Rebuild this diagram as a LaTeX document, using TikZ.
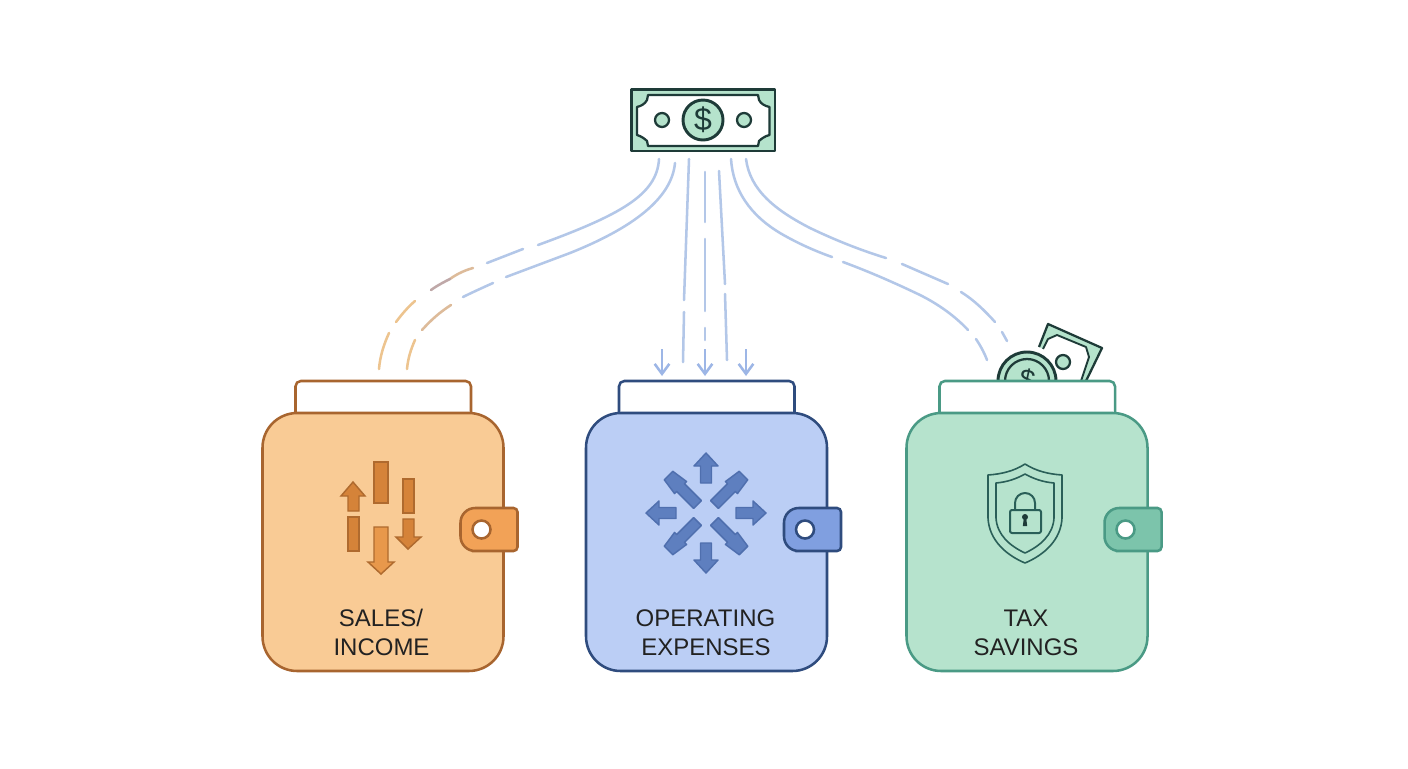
\documentclass[tikz,border=0pt]{standalone}
\usepackage{fontspec}
\setmainfont{Liberation Sans}
\usetikzlibrary{arrows.meta}
\definecolor{orfill}{HTML}{F9CB95}
\definecolor{orline}{HTML}{A8652F}
\definecolor{orclasp}{HTML}{F2A257}
\definecolor{orbar}{HTML}{D58339}
\definecolor{orbarlight}{HTML}{E8984B}
\definecolor{orbarline}{HTML}{AF6A2E}
\definecolor{blfill}{HTML}{BBCEF5}
\definecolor{blline}{HTML}{2F4C7E}
\definecolor{blclasp}{HTML}{809FE0}
\definecolor{blbar}{HTML}{5E7FBF}
\definecolor{blbarline}{HTML}{4F6FAE}
\definecolor{grfill}{HTML}{B6E3CD}
\definecolor{grline}{HTML}{4A9A85}
\definecolor{grclasp}{HTML}{7CC4AB}
\definecolor{icon}{HTML}{2A5F58}
\definecolor{billink}{HTML}{1E3B38}
\definecolor{billgreen}{HTML}{B5E3CC}
\definecolor{flowblue}{HTML}{B3C7E8}
\definecolor{flowarrow}{HTML}{9DB6E6}
\definecolor{floworange}{HTML}{EDC48F}
\definecolor{flowtan}{HTML}{DDBB9A}
\definecolor{flowmauve}{HTML}{BFA8A8}
\definecolor{labelink}{HTML}{222222}
\tikzset{
  x=0.75pt, y=-0.75pt,
  walletbody/.style={line width=1.9pt},
  walletslot/.style={line width=1.9pt, fill=white, rounded corners=4pt},
  flowline/.style={line width=1.9pt, color=flowblue, line cap=round},
  floworangeline/.style={flowline, color=floworange},
  dropline/.style={line width=1.9pt, color=flowarrow, -{Straight Barb[length=7.5pt,width=11pt]}},
  barshape/.style={line width=1.1pt, draw=orbarline, fill=orbar},
  barlight/.style={barshape, fill=orbarlight},
  dirshape/.style={line width=1.1pt, draw=blbarline, fill=blbar, line join=round},
  shieldline/.style={line width=1.2pt, draw=icon, line join=round},
  walletlabel/.style={font=\fontsize{18}{18}\selectfont, text=labelink, inner sep=0pt, anchor=base},
  billline/.style={line width=2.2pt, draw=billink, line join=round}
}
% Wallet: #1 left edge, #2 fill, #3 outline, #4 clasp colour
\newcommand{\walletshape}[4]{%
  \draw[walletslot, draw=#3] (#1+33,413) |- (#1+208.5,381) -- (#1+208.5,413);
  \draw[walletbody, draw=#3, fill=#2, rounded corners=26pt] (#1,413) rectangle (#1+241,671);
  \draw[walletbody, draw=#3, fill=#4, rounded corners=11pt]
    (#1+224,508) -- (#1+198,508) -- (#1+198,551) -- (#1+224,551)
    [rounded corners=3pt] -- (#1+255,551) -- (#1+255,508) -- cycle;
  \fill[white, draw=#3, line width=1.9pt] (#1+219,529.5) circle (9);
}
% Radial arrow on the expenses wallet: axis arrows
\newcommand{\axisarrow}[1]{%
  \draw[dirshape, shift={(706,513)}, rotate=#1]
    (30,-5.5) -- (47,-5.5) -- (47,-12) -- (60,0) -- (47,12) -- (47,5.5) -- (30,5.5) -- cycle;
}
% Radial arrow on the expenses wallet: diagonal arrows
\newcommand{\diagarrow}[1]{%
  \draw[dirshape, shift={(706,513)}, rotate=#1]
    (12,-5.5) -- (36,-5.5) -- (36,-8.5) -- (53,-6) -- (53,6) -- (36,8.5) -- (36,5.5) -- (12,5.5) -- cycle;
}
\begin{document}
\begin{tikzpicture}
\useasboundingbox (0,0) rectangle (1408,768);
\fill[white] (0,0) rectangle (1408,768);

% Banknote at the top
\draw[billline, fill=billgreen] (631.5,89.5) rectangle (775,151);
\draw[billline, line width=1.7pt, fill=white]
  (648,95) -- (758,95) -- (759,100) .. controls (761,104) and (765,106) .. (769.5,107)
  -- (769.5,135) .. controls (765,136) and (761,139) .. (759,141) -- (758,146) -- (648,146) -- (647,141)
  .. controls (645,139) and (641,136) .. (637,135) -- (637,107)
  .. controls (641,106) and (645,104) .. (647,100) -- cycle;
\draw[billline, fill=billgreen] (703,120) circle (20);
\draw[billline, line width=1.7pt, fill=billgreen] (662,120) circle (7);
\draw[billline, line width=1.7pt, fill=billgreen] (744,120) circle (7);
\node[inner sep=0pt, text=billink, font=\fontsize{24}{24}\selectfont] (billsign) at (703,120) {\$};

% Named ends of the flow lines
\coordinate (la) at (659,159);
\coordinate (laend) at (379,369);
\coordinate (lb) at (675,163);
\coordinate (lbend) at (407,369);
\coordinate (ma) at (689,159);
\coordinate (maend) at (683,362);
\coordinate (mb) at (705,172);
\coordinate (mbend) at (705,340);
\coordinate (mc) at (719,171);
\coordinate (mcend) at (727,360);
\coordinate (ra) at (746,159);
\coordinate (raend) at (1007,341);
\coordinate (rb) at (731,159);
\coordinate (rbend) at (987,360);
\coordinate (da) at (662,349);
\coordinate (daend) at (662,376);
\coordinate (db) at (705,349);
\coordinate (dbend) at (705,376);
\coordinate (dc) at (746,349);
\coordinate (dcend) at (746,376);

% Left pair of flow lines
\draw[flowline] (la) .. controls (657,195) and (620,215) .. (538,245)
  (523,249) -- (487,263);
\draw[flowline, color=flowtan] (473,268) .. controls (462,271) and (454,276) .. (450,279);
\draw[flowline, color=flowmauve] (450,279) .. controls (444,282) and (438,285) .. (431,290);
\draw[floworangeline] (415,301) .. controls (408,307) and (402,314) .. (396,322)
  (389,333) .. controls (384,344) and (380,356) .. (laend);
\draw[flowline] (lb) .. controls (672,195) and (640,225) .. (570,253)
  -- (506,277) (493,283) .. controls (482,288) and (473,292) .. (463,297);
\draw[flowline, color=flowtan] (451,305) .. controls (440,312) and (431,320) .. (422,330);
\draw[floworangeline] (415,340) .. controls (411,349) and (408,358) .. (lbend);

% Middle flow lines and their arrows
\draw[flowline] (ma) -- (684,300) (684,312) -- (maend);
\draw[flowline] (mb) -- (705,222) (705,239) -- (705,311) (705,328) -- (mbend);
\draw[flowline] (mc) -- (725,284) (725,294) -- (mcend);
\draw[dropline] (da) -- (daend);
\draw[dropline] (db) -- (dbend);
\draw[dropline] (dc) -- (dcend);

% Right pair of flow lines
\draw[flowline] (ra) .. controls (750,190) and (775,210) .. (810,228)
  .. controls (835,240) and (860,250) .. (886,258)
  (902,264) -- (948,284)
  (961,292) .. controls (974,300) and (985,311) .. (995,322)
  (1002,332) -- (raend);
\draw[flowline] (rb) .. controls (733,190) and (750,215) .. (780,233)
  .. controls (797,243) and (815,251) .. (832,257)
  (843,262) .. controls (870,272) and (895,283) .. (920,295)
  .. controls (938,304) and (955,316) .. (968,330)
  (976,339) .. controls (980,345) and (984,352) .. (rbend);

% Note and coin rising out of the green wallet
\fill[billgreen] (1039,347) -- (1048,324) -- (1102,348) -- (1086,381) -- (1081,381) -- (1089,357)
  -- (1086,347) -- (1057,335) -- (1048,339) -- (1043,349) -- cycle;
\draw[billline, line width=1.7pt] (1039,347) -- (1048,324) -- (1102,348) -- (1086,381);
\draw[billline, line width=1.4pt] (1043,349) -- (1048,339) -- (1057,335) -- (1086,347) -- (1089,357) -- (1081,381);
\draw[billline, line width=1.7pt, fill=billgreen] (1063,362) circle (7);
\draw[billline, fill=billgreen] (1027,381) circle (29);
\draw[billline, line width=1.7pt] (1027,381) circle (22);
\node[inner sep=0pt, text=billink, rotate=-12, font=\fontsize{21}{21}\selectfont] (coinsign) at (1027,380) {\$};
\fill[white] (990,381) rectangle (1115,400);

% Wallets
\walletshape{262.5}{orfill}{orline}{orclasp}
\walletshape{586}{blfill}{blline}{blclasp}
\walletshape{906.5}{grfill}{grline}{grclasp}

% Sales/income icon
\draw[barshape] (353,482) -- (365,496) -- (359,496) -- (359,511) -- (348,511) -- (348,496) -- (341,496) -- cycle;
\draw[barshape] (374,462) rectangle (388,503);
\draw[barshape] (403,479) rectangle (414,513);
\draw[barshape] (348,517) rectangle (359,551);
\draw[barlight] (374,527) -- (388,527) -- (388,562) -- (394,562) -- (381,574) -- (368,562) -- (374,562) -- cycle;
\draw[barshape] (403,519) -- (414,519) -- (414,537) -- (421,537) -- (408,549) -- (396,537) -- (403,537) -- cycle;

% Operating expenses icon
\axisarrow{0}
\axisarrow{90}
\axisarrow{180}
\axisarrow{270}
\diagarrow{45}
\diagarrow{135}
\diagarrow{225}
\diagarrow{315}

% Tax savings icon: shield and padlock
\draw[shieldline] (1025,464) .. controls (1014,471) and (1002,474) .. (988,475) -- (988,518)
  .. controls (989,540) and (1006,555) .. (1025,563)
  .. controls (1044,555) and (1061,540) .. (1062,518) -- (1062,475)
  .. controls (1048,474) and (1036,471) .. cycle;
\draw[shieldline] (1025,474) .. controls (1016,479) and (1007,482) .. (996,483) -- (996,518)
  .. controls (997,535) and (1010,546) .. (1025,553)
  .. controls (1040,546) and (1053,535) .. (1054,518) -- (1054,483)
  .. controls (1043,482) and (1034,479) .. cycle;
\draw[shieldline, line width=1.5pt, rounded corners=1.5pt] (1010,510) rectangle (1041,533);
\draw[shieldline, line width=1.5pt] (1015,510) -- (1015,503) arc[start angle=180, end angle=360, radius=10] -- (1035,510);
\fill[billink] (1025,517) circle (3);
\fill[billink] (1023.8,518) -- (1026.2,518) -- (1027.2,526) -- (1022.8,526) -- cycle;

% Wallet labels
\node[walletlabel] (salesa) at (381,626) {SALES/};
\node[walletlabel] (salesb) at (381.5,655) {INCOME};
\node[walletlabel] (opera) at (705.5,626) {OPERATING};
\node[walletlabel] (operb) at (706,655) {EXPENSES};
\node[walletlabel] (taxa) at (1026,626) {TAX};
\node[walletlabel] (taxb) at (1026,655) {SAVINGS};
\end{tikzpicture}
\end{document}
